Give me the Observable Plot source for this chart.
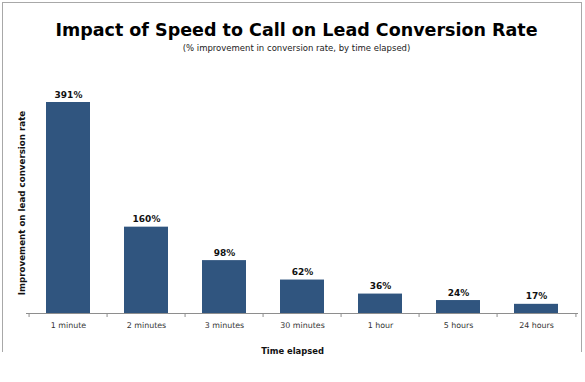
<!DOCTYPE html>
<html>
<head>
<meta charset="utf-8">
<script src="https://cdn.jsdelivr.net/npm/d3@7"></script>
<script src="https://cdn.jsdelivr.net/npm/@observablehq/plot@0.6"></script>
<style>
  html, body { margin: 0; padding: 0; background: #fff; }
  #wrap { position: relative; width: 585px; height: 382px; overflow: hidden; font-family: "DejaVu Sans", sans-serif; }
  #frame { position: absolute; left: 2px; top: 2px; width: 580px; height: 350px; border-left: 1px solid #a8a8a8; border-top: 1px solid #a8a8a8; border-right: 1px solid #a8a8a8; box-sizing: border-box; }
  #title { position: absolute; left: 0; width: 593px; top: 22px; text-align: center; font-weight: bold; font-size: 17.5px; line-height: 17.5px; color: #000; white-space: nowrap; }
  #subtitle { position: absolute; left: 0; width: 593px; top: 43.5px; text-align: center; font-size: 8.5px; line-height: 8.5px; color: #222; white-space: nowrap; }
  #chart { position: absolute; left: 0; top: 0; }
</style>
</head>
<body>
<div id="wrap">
  <div id="frame"></div>
  <div id="chart"></div>
  <div id="title"></div>
  <div id="subtitle"></div>
</div>
<script>
const titleText = "Impact of Speed to Call on Lead Conversion Rate";
const subtitleText = "(% improvement in conversion rate, by time elapsed)";
const xLabel = "Time elapsed";
const yLabel = "Improvement on lead conversion rate";
const categories = ["1 minute", "2 minutes", "3 minutes", "30 minutes", "1 hour", "5 hours", "24 hours"];
const values = [391, 160, 98, 62, 36, 24, 17];

document.getElementById("title").textContent = titleText;
document.getElementById("subtitle").textContent = subtitleText;

const data = categories.map((c, i) => ({cat: c, val: values[i]}));

const W = 585, H = 382;
const mL = 26, mR = 7, mT = 102, mB = 69;
const halfStep = (W - mL - mR) / categories.length / 2;
const barColor = "#30557f";
const axisColor = "#8e8e8e";

const chart = Plot.plot({
  width: W,
  height: H,
  marginTop: mT,
  marginBottom: mB,
  marginLeft: mL,
  marginRight: mR,
  style: {fontFamily: "DejaVu Sans, sans-serif", background: "transparent", overflow: "visible"},
  x: {domain: categories, paddingInner: 0.44, paddingOuter: 0.22, axis: null, label: null},
  y: {domain: [0, 391], axis: null, label: null},
  marks: [
    Plot.barY(data, {x: "cat", y: "val", fill: barColor}),
    Plot.ruleY([0], {stroke: axisColor, strokeWidth: 1}),
    Plot.axisX({tickSize: 4, dx: -halfStep, tickFormat: () => "", stroke: axisColor, label: null}),
    Plot.axisX([categories[categories.length - 1]], {tickSize: 4, dx: halfStep, tickFormat: () => "", stroke: axisColor, label: null}),
    Plot.axisX({tickSize: 0, tickPadding: 9, fontSize: 7.9, fill: "#333", label: null}),
    Plot.text(data, {x: "cat", y: "val", text: d => d.val + "%", dy: -5, lineAnchor: "bottom", fontWeight: "bold", fontSize: 9, fill: "#111"}),
    Plot.text([yLabel], {frameAnchor: "left", textAnchor: "middle", rotate: -90, dx: -4.5, dy: -5, fontWeight: "bold", fontSize: 8.7, fill: "#111"}),
    Plot.text([xLabel], {frameAnchor: "bottom", dx: -10, dy: 38, lineAnchor: "middle", fontWeight: "bold", fontSize: 8.4, fill: "#111"})
  ]
});
document.getElementById("chart").appendChild(chart);
</script>
</body>
</html>
